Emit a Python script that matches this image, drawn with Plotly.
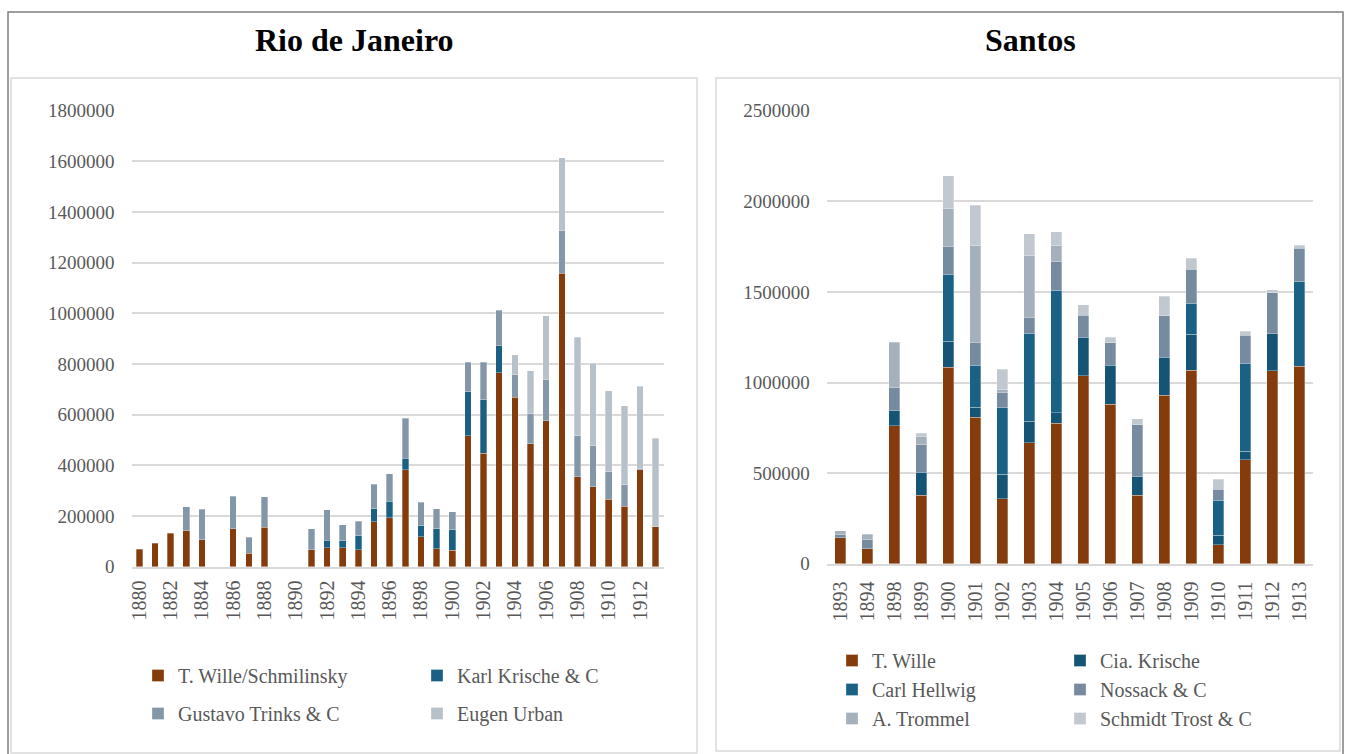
import plotly.graph_objects as go

# ---------------- Rio de Janeiro ----------------
rio_years = list(range(1880, 1914))
rio_wille = [68000, 92000, 132000, 141000, 106000, None, 149000, 54000, 155000, None,
             None, 66000, 75000, 75000, 67000, 178000, 193000, 383000, 118000, 71000,
             65000, 517000, 448000, 766000, 669000, 485000, 576000, 1158000, 355000, 315000,
             266000, 238000, 382000, 158000]
rio_krische = [None, None, None, None, None, None, None, None, None, None,
               None, None, 30000, 28000, 55000, 50000, 66000, 46000, 43000, 79000,
               81000, 174000, 211000, 106000, None, None, None, None, None, None,
               None, None, None, None]
rio_trinks = [None, None, None, 96000, 120000, None, 130000, 63000, 121000, None,
              None, 84000, 120000, 62000, 58000, 97000, 107000, 157000, 93000, 78000,
              71000, 116000, 149000, 140000, 89000, 119000, 161000, 168000, 162000, 163000,
              109000, 85000, 6000, None]
rio_urban = [None, None, None, None, None, None, None, None, None, None,
             None, None, None, None, None, None, None, None, None, None,
             None, None, None, None, 78000, 169000, 254000, 289000, 389000, 325000,
             319000, 313000, 325000, 349000]
rio_ticks = list(range(1880, 1913, 2))

# ---------------- Santos ----------------
santos_years = ["1893", "1894", "1898", "1899", "1900", "1901", "1902", "1903", "1904",
                "1905", "1906", "1907", "1908", "1909", "1910", "1911", "1912", "1913"]
santos_wille = [144000, 83000, 762000, 379000, 1083000, 807000, 359000, 667000, 775000,
                1037000, 879000, 378000, 930000, 1068000, 105000, 575000, 1065000, 1090000]
santos_cia_krische = [None, None, 83000, 127000, 146000, 57000, 134000, 120000, 59000,
                      212000, 216000, 103000, 208000, 199000, 52000, 46000, 203000, None]
santos_hellwig = [None, None, None, None, 367000, 230000, 368000, 484000, 674000,
                  None, None, None, None, 171000, 192000, 486000, None, 466000]
santos_nossack = [15000, 50000, 125000, 151000, 157000, 129000, 83000, 88000, 160000,
                  122000, 125000, 287000, 230000, 188000, 61000, 153000, 227000, 184000]
santos_trommel = [23000, 29000, 252000, 44000, 208000, 532000, 17000, 341000, 88000,
                  None, None, None, None, None, None, None, None, None]
santos_schmidt = [None, None, None, 20000, 179000, 223000, 112000, 122000, 76000,
                  57000, 29000, 31000, 107000, 61000, 55000, 24000, 18000, 18000]

W, H = 1349, 754
FONT = "Liberation Serif"
GRAY_TXT = "#595959"
GRID = "#d9d9d9"


def px_x(p):
    return p / W


def px_y(p):
    return 1 - p / H


fig = go.Figure()


def add_bar(x, y, name, color, xaxis, yaxis, legend):
    fig.add_trace(go.Bar(
        x=x, y=y, name=name, legendgroup=name, legend=legend,
        marker=dict(color=color, line=dict(color="rgba(255,255,255,0.6)", width=0.5)),
        xaxis=xaxis, yaxis=yaxis,
    ))


add_bar(rio_years, rio_wille, "T. Wille/Schmilinsky", "#843c0c", "x", "y", "legend")
add_bar(rio_years, rio_krische, "Karl Krische & C", "#1b5f82", "x", "y", "legend2")
add_bar(rio_years, rio_trinks, "Gustavo Trinks & C", "#8497a9", "x", "y", "legend")
add_bar(rio_years, rio_urban, "Eugen Urban", "#b7c1ca", "x", "y", "legend2")

add_bar(santos_years, santos_wille, "T. Wille", "#843c0c", "x2", "y2", "legend3")
add_bar(santos_years, santos_cia_krische, "Cia. Krische", "#155475", "x2", "y2", "legend4")
add_bar(santos_years, santos_hellwig, "Carl Hellwig", "#1b6185", "x2", "y2", "legend3")
add_bar(santos_years, santos_nossack, "Nossack & C", "#768ba0", "x2", "y2", "legend4")
add_bar(santos_years, santos_trommel, "A. Trommel", "#a4b0bb", "x2", "y2", "legend3")
add_bar(santos_years, santos_schmidt, "Schmidt Trost & C", "#c1c8cf", "x2", "y2", "legend4")

ytick_font = dict(family=FONT, size=19, color=GRAY_TXT)
xtick_font = dict(family=FONT, size=20, color=GRAY_TXT)
legend_font = dict(family=FONT, size=20, color=GRAY_TXT)

axis_common = dict(showgrid=False, zeroline=False, showline=True, linecolor=GRID,
                   linewidth=1.5, ticks="", tickfont=xtick_font, tickangle=-90,
                   automargin=False, fixedrange=True)
yaxis_common = dict(showgrid=True, gridcolor=GRID, gridwidth=1.5, zeroline=False,
                    showline=False, ticks="", tickfont=ytick_font, tickformat="d",
                    ticklabelstandoff=16, automargin=False, fixedrange=True)


def legend_at(x_px, y_px, gap):
    return dict(x=px_x(x_px), y=px_y(y_px), xanchor="left", yanchor="top",
                orientation="v", traceorder="grouped", tracegroupgap=gap,
                font=legend_font, bgcolor="rgba(0,0,0,0)", borderwidth=0)


fig.update_layout(
    width=W, height=H,
    margin=dict(l=0, r=0, t=0, b=0, autoexpand=False),
    paper_bgcolor="white", plot_bgcolor="white",
    barmode="stack", bargap=0.58,
    showlegend=True,
    xaxis=dict(domain=[px_x(131.5), px_x(663.5)], anchor="y", type="linear",
               range=[1879.5, 1913.5], tickvals=rio_ticks,
               ticktext=[str(v) for v in rio_ticks], ticklabelstandoff=4, **axis_common),
    yaxis=dict(domain=[px_y(566.7), px_y(110.7)], anchor="x", range=[0, 1800000],
               dtick=200000, **yaxis_common),
    xaxis2=dict(domain=[px_x(826.7), px_x(1312.7)], anchor="y2", type="category",
                categoryorder="array", categoryarray=santos_years,
                ticklabelstandoff=8, **axis_common),
    yaxis2=dict(domain=[px_y(563.7), px_y(110.7)], anchor="x2", range=[0, 2500000],
                dtick=500000, **yaxis_common),
    legend=legend_at(138, 656, 9),
    legend2=legend_at(417, 656, 9),
    legend3=legend_at(832, 641, 0),
    legend4=legend_at(1060, 641, 0),
)

# Frame around the whole figure and the two chart panels
fig.add_shape(type="rect", xref="paper", yref="paper",
              x0=px_x(8), x1=px_x(1343), y0=px_y(770), y1=px_y(12),
              line=dict(color="#7f7f7f", width=1.5), layer="below")
fig.add_shape(type="rect", xref="paper", yref="paper",
              x0=px_x(11), x1=px_x(697), y0=px_y(753), y1=px_y(78),
              line=dict(color=GRID, width=1.5), layer="below")
fig.add_shape(type="rect", xref="paper", yref="paper",
              x0=px_x(716), x1=px_x(1340), y0=px_y(751), y1=px_y(78),
              line=dict(color=GRID, width=1.5), layer="below")

title_font = dict(family=FONT, size=32, color="black")
fig.add_annotation(text="<b>Rio de Janeiro</b>", x=px_x(354.5), y=px_y(40),
                   xref="paper", yref="paper", showarrow=False, font=title_font,
                   xanchor="center", yanchor="middle")
fig.add_annotation(text="<b>Santos</b>", x=px_x(1030), y=px_y(40),
                   xref="paper", yref="paper", showarrow=False, font=title_font,
                   xanchor="center", yanchor="middle")

fig.write_html("out.html")
